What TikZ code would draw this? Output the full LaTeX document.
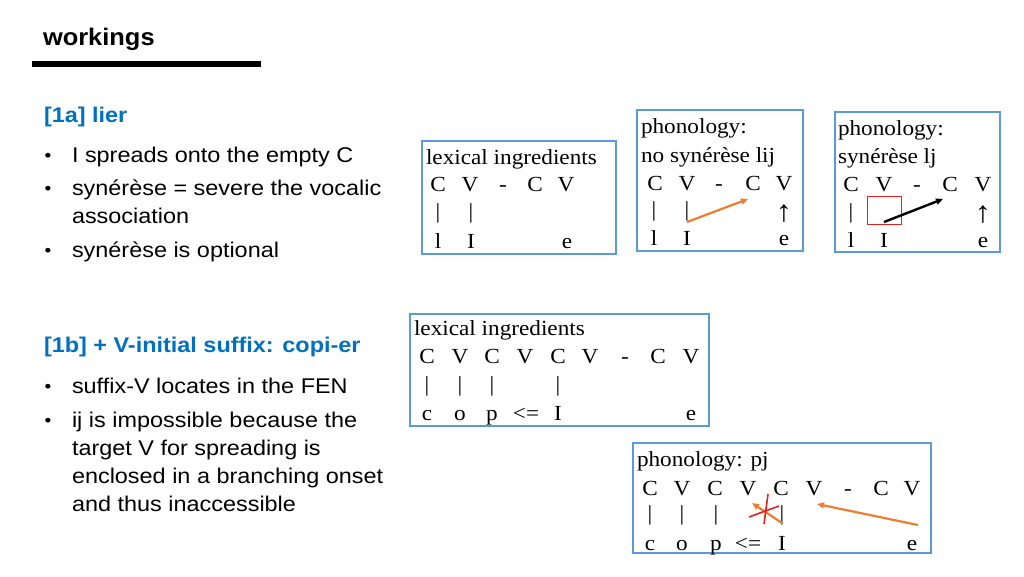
\documentclass[tikz,border=0pt]{standalone}
\usepackage{fontspec}
\setmainfont{Liberation Sans}
\newfontfamily\sansf{Liberation Sans}[FakeStretch=1.1]
\newfontfamily\titlef{Liberation Sans}[FakeStretch=1.06]
\newfontfamily\serf{Liberation Serif}[FakeStretch=1.08]
\usetikzlibrary{arrows.meta}
\definecolor{hblue}{RGB}{0,112,192}
\definecolor{bblue}{RGB}{91,155,213}
\definecolor{aorange}{RGB}{237,125,49}
\definecolor{xred}{RGB}{228,32,32}
\begin{document}
\begin{tikzpicture}[x=1pt,y=-1pt,
  every node/.style={inner sep=0pt,outer sep=0pt},
  ttl/.style={anchor=base west,font=\fontsize{24}{28}\titlef\bfseries},
  head/.style={anchor=base west,font=\fontsize{21.3}{26}\sansf\bfseries,text=hblue},
  body/.style={anchor=base west,font=\fontsize{21.3}{26}\sansf},
  bul/.style={anchor=base,font=\fontsize{17.5}{20}\sansf},
  btxt/.style={anchor=base west,font=\fontsize{21.5}{26}\serf},
  cell/.style={anchor=base,font=\fontsize{21.5}{26}\serf},
  uparr/.style={anchor=base,font=\fontsize{30}{32}\serf},
  panel/.style={draw=bblue,line width=1.5pt},
  oarrow/.style={draw=aorange,line width=2.2pt,-{Triangle[length=7pt,width=6pt]}},
  karrow/.style={draw=black,line width=2.4pt,-{Triangle[length=7pt,width=6pt]}},
  redline/.style={draw=xred,line width=1.6pt}]
\useasboundingbox (0,0) rectangle (1024,576);

% title
\node[ttl] (title) at (43,45) {workings};
\draw[line width=6pt] (32,64) -- (261,64);

% left column text
\node[head] (h1) at (44,122) {[1a] lier};
\node[bul] (d1) at (48,161) {•};
\node[body] (t1) at (72,162) {I spreads onto the empty C};
\node[bul] (d2) at (48,194) {•};
\node[body] (t2a) at (72,195) {synérèse = severe the vocalic};
\node[body] (t2b) at (72,223) {association};
\node[bul] (d3) at (48,256) {•};
\node[body] (t3) at (72,257) {synérèse is optional};

\node[head] (h2) at (44,352) {[1b] + V-initial suffix: copi-er};
\node[bul] (d4) at (48,392) {•};
\node[body] (t4) at (72,393) {suffix-V locates in the FEN};
\node[bul] (d5) at (48,426) {•};
\node[body] (t5a) at (72,427) {ij is impossible because the};
\node[body] (t5b) at (72,455) {target V for spreading is};
\node[body] (t5c) at (72,483) {enclosed in a branching onset};
\node[body] (t5d) at (72,511) {and thus inaccessible};

% ---------- box 1: lexical ingredients ----------
\draw[panel] (422,141) rectangle (616,254);
\node[btxt] (p1t) at (426,164) {lexical ingredients};
\foreach \x/\t [count=\i] in {438/C,470/V,503/-,535/C,566/V}
  \node[cell] (pa\i) at (\x,191) {\t};
\foreach \x [count=\i] in {438,471}
  \node[cell] (pab\i) at (\x,218) {|};
\foreach \x/\t [count=\i] in {438/l,471/I,567/e}
  \node[cell] (pac\i) at (\x,248) {\t};

% ---------- box 2: no synérèse ----------
\draw[panel] (637,110) rectangle (803,251);
\node[btxt] (p2t) at (641,133) {phonology:};
\node[btxt] (p2u) at (641,162) {no synérèse lij};
\foreach \x/\t [count=\i] in {655/C,687/V,719/-,753/C,784/V}
  \node[cell] (pb\i) at (\x,190) {\t};
\foreach \x [count=\i] in {654,687}
  \node[cell] (pbb\i) at (\x,216) {|};
\node[uparr] (pbu) at (784,221) {↑};
\foreach \x/\t [count=\i] in {654/l,687/I,784/e}
  \node[cell] (pbc\i) at (\x,245) {\t};
\coordinate (b2s) at (687,222);
\coordinate (b2e) at (748,199);
\draw[oarrow] (b2s) -- (b2e);

% ---------- box 3: synérèse ----------
\draw[panel] (835,112) rectangle (1000,252);
\node[btxt] (p3t) at (838,135) {phonology:};
\node[btxt] (p3u) at (838,163) {synérèse lj};
\foreach \x/\t [count=\i] in {851/C,884/V,917/-,950/C,983/V}
  \node[cell] (pc\i) at (\x,191) {\t};
\node[cell] (pcb1) at (851,218) {|};
\node[uparr] (pcu) at (983,222) {↑};
\foreach \x/\t [count=\i] in {851/l,884/I,983/e}
  \node[cell] (pcc\i) at (\x,247) {\t};
\draw[draw=xred,line width=1pt] (867,196) rectangle (901,224);
\coordinate (b3s) at (884,222);
\coordinate (b3e) at (943,199);
\draw[karrow] (b3s) -- (b3e);

% ---------- box 4: lexical ingredients copi-er ----------
\draw[panel] (410,314) rectangle (709,426);
\node[btxt] (p4t) at (414,335) {lexical ingredients};
\foreach \x/\t [count=\i] in {427/C,460/V,492/C,525/V,558/C,590/V,625/-,658/C,691/V}
  \node[cell] (pd\i) at (\x,363) {\t};
\foreach \x [count=\i] in {427,460,492,558}
  \node[cell] (pdb\i) at (\x,391) {|};
\foreach \x/\t [count=\i] in {427/c,460/o,492/p,526/<=,558/I,691/e}
  \node[cell] (pdc\i) at (\x,420) {\t};

% ---------- box 5: phonology pj ----------
\draw[panel] (633,443) rectangle (931,553);
\node[btxt] (p5t) at (637,466) {phonology: pj};
\foreach \x/\t [count=\i] in {650/C,682/V,715/C,748/V,781/C,814/V,848/-,881/C,912/V}
  \node[cell] (pe\i) at (\x,495) {\t};
\foreach \x [count=\i] in {650,682,716,782}
  \node[cell] (peb\i) at (\x,520) {|};
\foreach \x/\t [count=\i] in {650/c,682/o,716/p,748/<=,782/I,912/e}
  \node[cell] (pec\i) at (\x,550) {\t};
\coordinate (b5s) at (782,523);
\coordinate (b5e) at (752,503);
\draw[oarrow] (b5s) -- (b5e);
\coordinate (b5f) at (918,525);
\coordinate (b5g) at (817,504);
\draw[oarrow] (b5f) -- (b5g);
\coordinate (x1a) at (749,517);
\coordinate (x1b) at (779,506);
\coordinate (x2a) at (768,494);
\coordinate (x2b) at (764,524);
\draw[redline] (x1a) -- (x1b);
\draw[redline] (x2a) -- (x2b);
\end{tikzpicture}
\end{document}
